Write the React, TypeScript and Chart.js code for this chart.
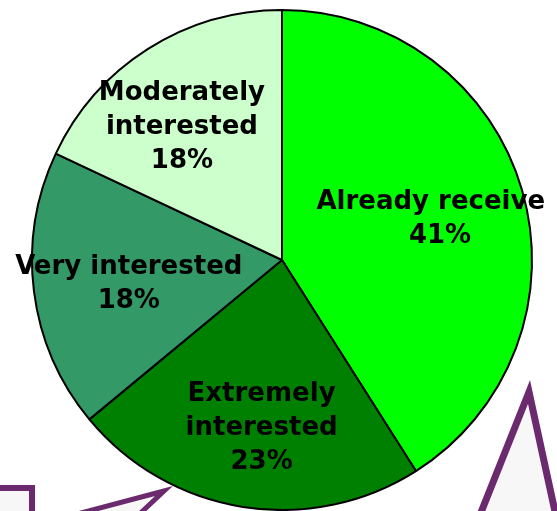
import { useEffect, useRef } from "react";
import { Chart, registerables } from "chart.js";

Chart.register(...registerables);

const categories = ["Already received", "Extremely interested", "Very interested", "Moderately interested"];
const labelLines = [["Already received"], ["Extremely", "interested"], ["Very interested"], ["Moderately", "interested"]];
const values = [41, 23, 18, 18];
const sliceColors = ["#00FF00", "#008000", "#339966", "#CCFFCC"];

// label nudges (style, px) relative to the slice anchor
const labelNudgeX = [2, 5, 8, -13];
const labelNudgeY = [5, 8, 4, 4];

// decorative callout shapes (not data)
const calloutStroke = "#6C2A6E";
const calloutFill = "#F7F7F7";
const calloutRect = [-20, 488, 52, 60]; // x, y, w, h
const calloutPointer = [[164, 491], [62, 518], [131, 522]];
const calloutTriangle = [[529, 392], [474, 530], [559, 530]];

const labelFont = "bold 26px 'DejaVu Sans', Verdana, sans-serif";
const lineHeight = 34;
const labelRadiusFrac = 0.65;
const labelClipRight = 546;

export default function App() {
  const ref = useRef<HTMLCanvasElement | null>(null);

  useEffect(() => {
    if (!ref.current) return;
    const total = values.reduce((a, b) => a + b, 0);

    const labelPlugin = {
      id: "sliceLabels",
      afterDatasetsDraw(chart: any) {
        const ctx = chart.ctx as CanvasRenderingContext2D;
        const meta = chart.getDatasetMeta(0);
        ctx.save();
        ctx.beginPath();
        ctx.rect(0, 0, labelClipRight, chart.height);
        ctx.clip();
        ctx.font = labelFont;
        ctx.fillStyle = "#000000";
        ctx.textAlign = "center";
        ctx.textBaseline = "middle";
        meta.data.forEach((arc: any, i: number) => {
          const mid = (arc.startAngle + arc.endAngle) / 2;
          const r = arc.outerRadius * labelRadiusFrac;
          const cx = arc.x + Math.cos(mid) * r + labelNudgeX[i];
          const cy = arc.y + Math.sin(mid) * r + labelNudgeY[i];
          const pct = Math.round((values[i] / total) * 100) + "%";
          const lines = [...labelLines[i], pct];
          const startY = cy - ((lines.length - 1) * lineHeight) / 2;
          lines.forEach((ln, k) => ctx.fillText(ln, cx, startY + k * lineHeight));
        });
        ctx.restore();
      },
    };

    const calloutPlugin = {
      id: "callouts",
      afterDraw(chart: any) {
        const ctx = chart.ctx as CanvasRenderingContext2D;
        ctx.save();
        ctx.lineWidth = 6;
        ctx.lineJoin = "miter";
        ctx.strokeStyle = calloutStroke;
        ctx.fillStyle = calloutFill;
        const [rx, ry, rw, rh] = calloutRect;
        ctx.fillRect(rx, ry, rw, rh);
        ctx.strokeRect(rx, ry, rw, rh);
        const poly = (pts: number[][]) => {
          ctx.beginPath();
          ctx.moveTo(pts[0][0], pts[0][1]);
          for (let k = 1; k < pts.length; k++) ctx.lineTo(pts[k][0], pts[k][1]);
          ctx.closePath();
          ctx.fill();
          ctx.stroke();
        };
        ctx.lineWidth = 5;
        poly(calloutPointer);
        ctx.lineWidth = 7;
        poly(calloutTriangle);
        ctx.restore();
      },
    };

    const chart = new Chart(ref.current, {
      type: "pie",
      data: {
        labels: categories,
        datasets: [
          {
            data: values,
            backgroundColor: sliceColors,
            borderColor: "#000000",
            borderWidth: 2,
          },
        ],
      },
      options: {
        responsive: false,
        animation: false,
        radius: 250,
        layout: { padding: { left: 32, right: 25, top: 10, bottom: 1 } },
        plugins: {
          legend: { display: false },
          tooltip: { enabled: false },
        },
      } as any,
      plugins: [labelPlugin, calloutPlugin],
    });
    return () => chart.destroy();
  }, []);

  return (
    <div style={{ position: "fixed", left: 0, top: 0, width: 557, height: 511, background: "#ffffff" }}>
      <canvas ref={ref} width={557} height={511} style={{ display: "block" }} />
    </div>
  );
}
